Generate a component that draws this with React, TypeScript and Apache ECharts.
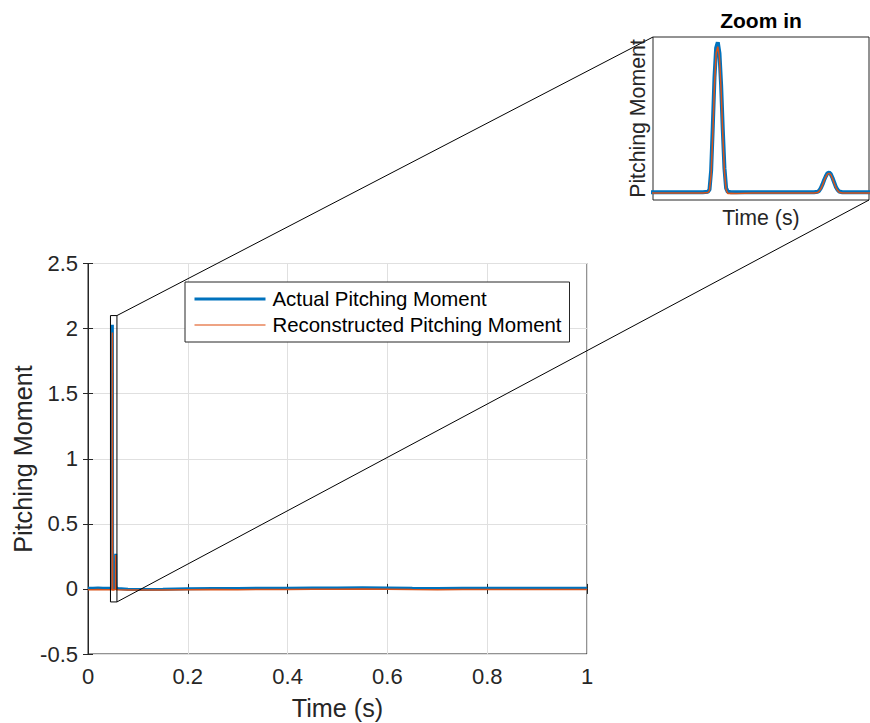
import React, { useEffect, useRef } from "react";
import * as echarts from "echarts";

// ---- data ----
const time = [
  0, 0.01, 0.02, 0.03, 0.04, 0.046, 0.048, 0.0483, 0.0484, 0.0485, 0.0486, 0.0487, 0.0488, 0.0489,
  0.049, 0.0491, 0.0492, 0.0493, 0.0494, 0.0495, 0.0497, 0.05, 0.0505, 0.051, 0.052, 0.053, 0.054,
  0.0547, 0.0549, 0.055, 0.0551, 0.0552, 0.0553, 0.0554, 0.0555, 0.0556, 0.0557, 0.0558, 0.0559,
  0.056, 0.0561, 0.0562, 0.0564, 0.057, 0.058, 0.06, 0.08, 0.1, 0.15, 0.2, 0.25, 0.3, 0.35, 0.4,
  0.45, 0.5, 0.55, 0.6, 0.65, 0.7, 0.75, 0.8, 0.85, 0.9, 0.95, 1.0,
];
const actualMoment = [
  0.006, 0.005, 0.007, 0.005, 0.006, 0.005, 0.005, 0.01, 0.04, 0.3, 0.9, 1.55, 1.95, 2.03,
  1.88, 1.45, 0.85, 0.33, 0.06, 0.01, 0.005, 0.004, 0.005, 0.004, 0.005, 0.004, 0.005,
  0.005, 0.01, 0.025, 0.06, 0.11, 0.17, 0.22, 0.26, 0.27, 0.25, 0.2, 0.14,
  0.08, 0.04, 0.015, 0.005, 0.004, 0.005, 0.003, -0.003, -0.005, -0.002, 0.002, 0.004, 0.003, 0.005, 0.006,
  0.007, 0.008, 0.009, 0.007, 0.005, 0.004, 0.005, 0.006, 0.005, 0.006, 0.005, 0.006,
];
const reconMoment = [
  -0.006, -0.007, -0.005, -0.007, -0.006, -0.007, -0.006, 0.0, 0.03, 0.25, 0.8, 1.45, 1.88, 1.97,
  1.82, 1.38, 0.78, 0.28, 0.04, -0.012, -0.01, -0.012, -0.008, -0.007, -0.006, -0.007, -0.006,
  -0.006, 0.0, 0.02, 0.05, 0.1, 0.16, 0.21, 0.25, 0.26, 0.24, 0.19, 0.13,
  0.07, 0.03, 0.005, -0.006, -0.007, -0.006, -0.007, -0.008, -0.009, -0.008, -0.006, -0.005, -0.006, -0.005, -0.004,
  -0.003, -0.002, -0.001, -0.003, -0.005, -0.006, -0.005, -0.004, -0.005, -0.004, -0.005, -0.004,
];
const seriesNames = ["Actual Pitching Moment", "Reconstructed Pitching Moment"];
const zoomX = [0.045, 0.058];
const zoomY = [-0.1, 2.1];
const xRange = [0, 1, 0.2];
const yRange = [-0.5, 2.5, 0.5];

const FONT = "'Liberation Sans', Arial, Helvetica, sans-serif";
const AX = "#262626";
const BLUE = "#0072BD";
const ORANGE = "#D95319";

export default function App() {
  const ref = useRef<HTMLDivElement>(null);
  useEffect(() => {
    if (!ref.current) return;
    const chart = echarts.init(ref.current, undefined, { renderer: "svg" });
    const actual = time.map((t, i) => [t, actualMoment[i]]);
    const recon = time.map((t, i) => [t, reconMoment[i]]);
    const mainTick = { show: true, inside: true, length: 5, lineStyle: { color: AX, width: 1 } };
    const option: any = {
      animation: false,
      backgroundColor: "#ffffff",
      textStyle: { fontFamily: FONT },
      grid: [
        { left: 88, top: 263.5, width: 499, height: 390.5, show: true, borderColor: AX, borderWidth: 1, backgroundColor: "transparent" },
        { left: 653, top: 37, width: 216, height: 163, show: true, borderColor: AX, borderWidth: 1, backgroundColor: "#ffffff" },
      ],
      xAxis: [
        {
          type: "value", gridIndex: 0, min: xRange[0], max: xRange[1], interval: xRange[2], position: "bottom",
          axisLine: { show: true, lineStyle: { color: AX } },
          axisTick: mainTick,
          axisLabel: { color: AX, fontSize: 22, fontFamily: FONT, margin: 11 },
          splitLine: { show: true, lineStyle: { color: "#e0e0e0", width: 1 } },
        },
        {
          type: "value", gridIndex: 0, min: xRange[0], max: xRange[1], interval: xRange[2], position: "top",
          axisLine: { show: false }, axisTick: mainTick, axisLabel: { show: false }, splitLine: { show: false },
        },
        {
          type: "value", gridIndex: 1, min: zoomX[0], max: zoomX[1],
          axisLine: { show: false }, axisTick: { show: false }, axisLabel: { show: false }, splitLine: { show: false },
        },
      ],
      yAxis: [
        {
          type: "value", gridIndex: 0, min: yRange[0], max: yRange[1], interval: yRange[2], position: "left",
          axisLine: { show: true, lineStyle: { color: AX } },
          axisTick: mainTick,
          axisLabel: { color: AX, fontSize: 22, fontFamily: FONT, margin: 10 },
          splitLine: { show: true, lineStyle: { color: "#e0e0e0", width: 1 } },
        },
        {
          type: "value", gridIndex: 0, min: yRange[0], max: yRange[1], interval: yRange[2], position: "right",
          axisLine: { show: false }, axisTick: mainTick, axisLabel: { show: false }, splitLine: { show: false },
        },
        {
          type: "value", gridIndex: 1, min: zoomY[0], max: zoomY[1],
          axisLine: { show: false }, axisTick: { show: false }, axisLabel: { show: false }, splitLine: { show: false },
        },
      ],
      legend: {
        data: [
          { name: seriesNames[0], lineStyle: { width: 3, color: BLUE } },
          { name: seriesNames[1], lineStyle: { width: 1.5, color: "#e8845a" } },
        ],
        orient: "vertical",
        left: 185,
        top: 282,
        itemWidth: 71,
        itemHeight: 20,
        itemGap: 6,
        padding: [7, 8, 7, 8],
        borderColor: AX,
        borderWidth: 1,
        borderRadius: 0,
        backgroundColor: "#ffffff",
        itemStyle: { opacity: 0 },
        textStyle: { color: "#000000", fontSize: 20.4, fontFamily: FONT, padding: [0, 0, 0, 2], lineHeight: 20 },
        z: 20,
      },
      series: [
        { name: seriesNames[0], type: "line", xAxisIndex: 0, yAxisIndex: 0, data: actual, symbol: "none", lineStyle: { color: BLUE, width: 3 }, itemStyle: { color: BLUE }, z: 3 },
        { name: seriesNames[1], type: "line", xAxisIndex: 0, yAxisIndex: 0, data: recon, symbol: "none", lineStyle: { color: ORANGE, width: 1.5 }, itemStyle: { color: ORANGE }, z: 4 },
        { name: seriesNames[0], type: "line", xAxisIndex: 2, yAxisIndex: 2, data: actual, symbol: "none", lineStyle: { color: BLUE, width: 4 }, itemStyle: { color: BLUE }, z: 3 },
        { name: seriesNames[1], type: "line", xAxisIndex: 2, yAxisIndex: 2, data: recon, symbol: "none", lineStyle: { color: ORANGE, width: 1.5 }, itemStyle: { color: ORANGE }, z: 4 },
      ],
    };
    chart.setOption(option);

    const main = { xAxisIndex: 0, yAxisIndex: 0 };
    const ins = { xAxisIndex: 2, yAxisIndex: 2 };
    const rTL = chart.convertToPixel(main, [zoomX[0], zoomY[1]]) as number[];
    const rBR = chart.convertToPixel(main, [zoomX[1], zoomY[0]]) as number[];
    const rTR = chart.convertToPixel(main, [zoomX[1], zoomY[1]]) as number[];
    const iTL = chart.convertToPixel(ins, [zoomX[0], zoomY[1]]) as number[];
    const iBR = chart.convertToPixel(ins, [zoomX[1], zoomY[0]]) as number[];
    const iTop = iTL[1];
    const iBot = iBR[1];
    const iMidX = (iTL[0] + iBR[0]) / 2;
    const iMidY = (iTop + iBot) / 2;
    const lineStyle = { stroke: "#000000", lineWidth: 1, fill: null };
    chart.setOption({
      graphic: [
        { type: "rect", z: 10, shape: { x: rTL[0], y: rTL[1], width: rBR[0] - rTL[0], height: rBR[1] - rTL[1] }, style: { stroke: "#000000", lineWidth: 1, fill: "none" } },
        { type: "line", z: 10, shape: { x1: rTR[0], y1: rTR[1], x2: iTL[0], y2: iTL[1] }, style: lineStyle },
        { type: "line", z: 10, shape: { x1: rBR[0], y1: rBR[1], x2: iBR[0], y2: iBR[1] }, style: lineStyle },
        { type: "text", z: 10, x: 337.5, y: 708, style: { text: "Time (s)", font: `25.2px ${FONT}`, fill: AX, align: "center", verticalAlign: "middle" } },
        { type: "text", z: 10, x: 23, y: 459, rotation: Math.PI / 2, style: { text: "Pitching Moment", font: `25.2px ${FONT}`, fill: AX, align: "center", verticalAlign: "middle" } },
        { type: "text", z: 10, x: iMidX, y: 20, style: { text: "Zoom in", font: `bold 21px ${FONT}`, fill: "#000000", align: "center", verticalAlign: "middle" } },
        { type: "text", z: 10, x: iMidX, y: 218, style: { text: "Time (s)", font: `21.3px ${FONT}`, fill: AX, align: "center", verticalAlign: "middle" } },
        { type: "text", z: 10, x: 637.5, y: iMidY, rotation: Math.PI / 2, style: { text: "Pitching Moment", font: `21.3px ${FONT}`, fill: AX, align: "center", verticalAlign: "middle" } },
      ],
    });
    return () => chart.dispose();
  }, []);
  return <div ref={ref} style={{ position: "absolute", left: 0, top: 0, width: 870, height: 723 }} />;
}
